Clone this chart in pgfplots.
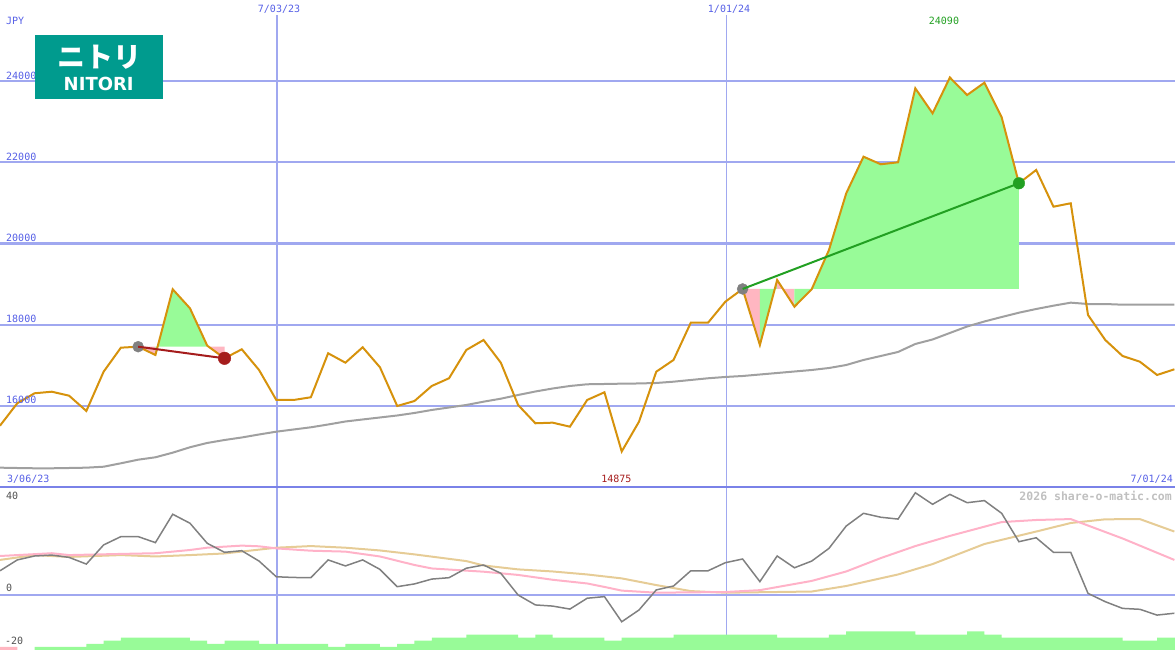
\documentclass[border=0pt]{standalone}
\usepackage{fontspec}
\usepackage{pgfplots}
\pgfplotsset{compat=1.18}
\setmainfont{DejaVu Sans}
\newfontfamily\lblfont{DejaVu Sans Mono}
\newfontfamily\cjk{Noto Sans CJK JP}
\definecolor{orangeline}{RGB}{214,146,12}
\definecolor{magray}{RGB}{160,160,160}
\definecolor{oscgray}{RGB}{128,128,128}
\definecolor{pinkma}{RGB}{255,178,200}
\definecolor{tanma}{RGB}{230,204,150}
\definecolor{palegreen}{RGB}{152,251,152}
\definecolor{lightpink}{RGB}{255,182,193}
\definecolor{darkredline}{RGB}{165,28,28}
\definecolor{greenline}{RGB}{34,160,34}
\definecolor{lblblue}{RGB}{85,95,230}
\definecolor{gridblue}{RGB}{160,168,240}
\definecolor{sepblue}{RGB}{122,130,232}
\definecolor{lblgray}{RGB}{80,80,80}
\definecolor{wmgray}{RGB}{192,192,192}
\definecolor{logoteal}{RGB}{0,155,142}
\definecolor{markgray}{RGB}{128,128,128}
\tikzset{lbl/.style={inner sep=0pt, font=\lblfont\fontsize{10}{12}\selectfont}}

\pgfplotstableread{
n v
0 15511
1 16063
2 16309
3 16348
4 16250
5 15873
6 16841
7 17433
8 17457
9 17253
10 18872
11 18404
12 17482
13 17171
14 17393
15 16883
16 16144
17 16144
18 16211
19 17295
20 17063
21 17443
22 16950
23 15996
24 16119
25 16489
26 16679
27 17376
28 17622
29 17063
30 16021
31 15570
32 15585
33 15486
34 16144
35 16334
36 14875
37 15609
38 16841
39 17130
40 18049
41 18049
42 18566
43 18880
44 17499
45 19101
46 18443
47 18872
48 19840
49 21237
50 22139
51 21952
52 22001
53 23824
54 23208
55 24090
56 23659
57 23962
58 23110
59 21484
60 21812
61 20907
62 20991
63 18238
64 17622
65 17228
66 17088
67 16760
68 16900
}\pricetable

\pgfplotstableread{
n v
0 14476
1 14468
2 14461
3 14461
4 14468
5 14476
6 14500
7 14584
8 14673
9 14732
10 14846
11 14979
12 15085
13 15158
14 15220
15 15294
16 15363
17 15417
18 15471
19 15540
20 15614
21 15664
22 15713
23 15762
24 15824
25 15898
26 15959
27 16021
28 16102
29 16176
30 16267
31 16353
32 16427
33 16489
34 16531
35 16538
36 16546
37 16551
38 16563
39 16595
40 16637
41 16679
42 16711
43 16735
44 16772
45 16809
46 16846
47 16883
48 16932
49 17006
50 17130
51 17228
52 17327
53 17524
54 17635
55 17795
56 17955
57 18078
58 18189
59 18295
60 18386
61 18468
62 18542
63 18509
64 18509
65 18492
66 18492
67 18492
68 18492
}\matable

\pgfplotstableread{
n v
0 10.5
1 15.2
2 16.9
3 17.3
4 16.3
5 13.4
6 21.7
7 25.3
8 25.3
9 22.7
10 35.0
11 31.1
12 22.4
13 18.5
14 19.2
15 14.7
16 7.9
17 7.6
18 7.5
19 15.2
20 12.6
21 15.2
22 11.1
23 3.6
24 4.8
25 6.9
26 7.5
27 11.6
28 13.0
29 9.4
30 0.0
31 -4.3
32 -4.8
33 -6.1
34 -1.4
35 -0.7
36 -11.6
37 -6.5
38 2.2
39 3.9
40 10.5
41 10.5
42 14.0
43 15.6
44 5.8
45 16.9
46 11.8
47 14.7
48 20.2
49 29.9
50 35.4
51 33.7
52 32.9
53 44.3
54 39.3
55 43.6
56 40.0
57 40.9
58 35.4
59 23.1
60 24.8
61 18.5
62 18.5
63 0.7
64 -2.9
65 -5.8
66 -6.2
67 -8.7
68 -7.9
}\osctable

\pgfplotstableread{
n v
0 16.9
3 18.1
4 17.3
7 17.8
9 18.1
11 19.5
12 20.5
14 21.4
15 21.1
16 20.2
18 19.2
20 18.8
22 16.7
24 13.0
25 11.5
28 10.1
30 8.7
32 6.6
34 5.0
35 3.5
36 1.9
38 1.0
42 1.3
44 2.1
47 6.1
49 10.2
51 16.0
53 21.2
55 25.6
58 31.6
60 32.5
62 32.9
63 30.1
65 24.5
68 15.2
}\pinktable

\pgfplotstableread{
n v
0 15.2
2 17.3
4 16.5
7 17.3
9 16.7
11 17.3
13 18.0
16 20.5
18 21.2
20 20.5
22 19.3
24 17.6
27 14.7
28 12.8
30 11.1
32 10.2
34 8.9
36 7.2
38 4.3
40 1.7
42 1.0
47 1.5
49 3.9
52 8.9
54 13.4
57 22.1
60 27.5
62 31.2
64 32.8
66 32.9
68 27.5
}\tantable

\begin{document}
\begin{tikzpicture}
\path[use as bounding box] (0pt,0pt) rectangle (1175pt,650pt);

% ---------- upper panel ----------
\begin{axis}[
  at={(0pt,163pt)}, anchor=south west,
  scale only axis, width=1175pt, height=487pt,
  xmin=0, xmax=68.037, ymin=14000, ymax=26000,
  axis line style={draw=none}, tick style={draw=none},
  xtick=\empty, ytick={16000,18000,20000,22000,24000}, yticklabels={},
  ymajorgrids, grid style={gridblue, line width=2.2pt},
  clip mode=individual,
]
\draw[gridblue, line width=2pt] (axis cs:16.04,14000) -- (axis cs:16.04,25630);
\draw[gridblue, line width=1pt] (axis cs:42.04,14000) -- (axis cs:42.04,25630);

\addplot[magray, line width=2pt, forget plot] table[x=n,y=v] {\matable};

% fills region 1
\addplot[fill=lightpink, draw=none, forget plot] coordinates {(8,17457) (9,17253) (9,17457)} -- cycle;
\addplot[fill=palegreen, draw=none, forget plot] coordinates {(9,17457) (9,17253) (10,18872) (11,18404) (12,17482) (12,17457)} -- cycle;
\addplot[fill=lightpink, draw=none, forget plot] coordinates {(12,17457) (12,17482) (13,17171) (13,17457)} -- cycle;
% fills region 2
\addplot[fill=lightpink, draw=none, forget plot] coordinates {(43,18880) (44,17499) (44,18880)} -- cycle;
\addplot[fill=palegreen, draw=none, forget plot] coordinates {(44,18880) (44,17499) (45,19101) (45,18880)} -- cycle;
\addplot[fill=lightpink, draw=none, forget plot] coordinates {(45,18880) (45,19101) (46,18443) (46,18880)} -- cycle;
\addplot[fill=palegreen, draw=none, forget plot] coordinates {(46,18880) (46,18443) (47,18872) (48,19840) (49,21237) (50,22139) (51,21952) (52,22001) (53,23824) (54,23208) (55,24090) (56,23659) (57,23962) (58,23110) (59,21484) (59,18880)} -- cycle;

\addplot[orangeline, line width=2pt, forget plot] table[x=n,y=v] {\pricetable};

\addplot[only marks, mark=*, mark size=5.5pt, markgray, forget plot] coordinates {(8,17457) (43,18880)};
\addplot[darkredline, line width=2pt, forget plot] coordinates {(8,17457) (13,17171)};
\addplot[only marks, mark=*, mark size=6.3pt, darkredline, forget plot] coordinates {(13,17171)};
\addplot[greenline, line width=2pt, forget plot] coordinates {(43,18880) (59,21484)};
\addplot[only marks, mark=*, mark size=5.8pt, greenline, forget plot] coordinates {(59,21484)};

% labels
\node[lbl, anchor=base west, text=lblblue, xshift=6pt, yshift=-25pt] at (axis cs:0,26000) {JPY};
\pgfplotsinvokeforeach{16000,18000,20000,22000,24000}{
  \node[lbl, anchor=base west, text=lblblue, xshift=6pt, yshift=2pt] at (axis cs:0,#1) {#1};
}
\node[lbl, anchor=base, text=lblblue, xshift=2pt, yshift=-12.7pt] at (axis cs:16.04,26000) {7/03/23};
\node[lbl, anchor=base, text=lblblue, xshift=3pt, yshift=-12.7pt] at (axis cs:42.04,26000) {1/01/24};
\node[lbl, anchor=base, text=greenline, yshift=-25pt] at (axis cs:54.66,26000) {24090};
\node[lbl, anchor=base west, text=lblblue, xshift=7pt, yshift=4pt] at (axis cs:0,14000) {3/06/23};
\node[lbl, anchor=base, text=darkredline, yshift=4pt] at (axis cs:35.69,14000) {14875};
\node[lbl, anchor=base east, text=lblblue, xshift=-2pt, yshift=4pt] at (axis cs:68.037,14000) {7/01/24};

% logo
\fill[logoteal] (axis cs:2.027,23561) rectangle (axis cs:9.438,25138);
\node[inner sep=0pt, text=white, font=\cjk\bfseries\fontsize{28}{30}\selectfont] at (axis cs:5.76,24600) {ニトリ};
\node[inner sep=0pt, text=white, font=\bfseries\fontsize{18}{20}\selectfont] at (axis cs:5.715,23930) {NITORI};
\end{axis}

% ---------- lower panel ----------
\begin{axis}[
  at={(0pt,0pt)}, anchor=south west,
  scale only axis, width=1175pt, height=163pt,
  xmin=0, xmax=68.037, ymin=-23.83, ymax=46.8,
  axis line style={draw=none}, tick style={draw=none},
  xtick=\empty, ytick={0}, yticklabels={},
  ymajorgrids, grid style={gridblue, line width=2.2pt},
  clip mode=individual,
]
\draw[gridblue, line width=2pt] (axis cs:16.04,-23.83) -- (axis cs:16.04,46.8);
\draw[gridblue, line width=1pt] (axis cs:42.04,-23.83) -- (axis cs:42.04,46.8);
\addplot[tanma, line width=2pt, forget plot] table[x=n,y=v] {\tantable};
\addplot[pinkma, line width=2pt, forget plot] table[x=n,y=v] {\pinktable};
\addplot[oscgray, line width=1.5pt, forget plot] table[x=n,y=v] {\osctable};
\node[lbl, anchor=base west, text=lblgray, xshift=6pt, yshift=96pt] at (axis cs:0,0) {40};
\node[lbl, anchor=base west, text=lblgray, xshift=6pt, yshift=3.3pt] at (axis cs:0,0) {0};
\node[lbl, anchor=base west, text=lblgray, xshift=5pt, yshift=-49pt] at (axis cs:0,0) {-20};
\node[inner sep=0pt, anchor=base east, text=wmgray, font=\lblfont\bfseries\fontsize{11.5}{13}\selectfont, xshift=-3pt, yshift=94.3pt] at (axis cs:68.037,0) {2026 share-o-matic.com};
\end{axis}

% ---------- volume overlay ----------
\begin{axis}[
  at={(0pt,0pt)}, anchor=south west,
  scale only axis, width=1175pt, height=163pt,
  xmin=0, xmax=68.037, ymin=0, ymax=52.6,
  hide axis, clip mode=individual,
]
\addplot[const plot, fill=lightpink, draw=none, forget plot] coordinates {(0,1) (1,1)} \closedcycle;
\addplot[const plot, fill=palegreen, draw=none, forget plot] coordinates {
(2,1) (5,2) (6,3) (7,4) (11,3) (12,2) (13,3) (15,2) (19,1) (20,2) (22,1) (23,2) (24,3) (25,4) (27,5) (30,4) (31,5) (32,4) (35,3) (36,4) (39,5) (45,4) (48,5) (49,6) (53,5) (56,6) (57,5) (58,4) (65,3) (67,4) (68.037,4)} \closedcycle;
\draw[sepblue, line width=2.3pt] (axis cs:0,52.6) -- (axis cs:68.037,52.6);
\end{axis}
\end{tikzpicture}
\end{document}
